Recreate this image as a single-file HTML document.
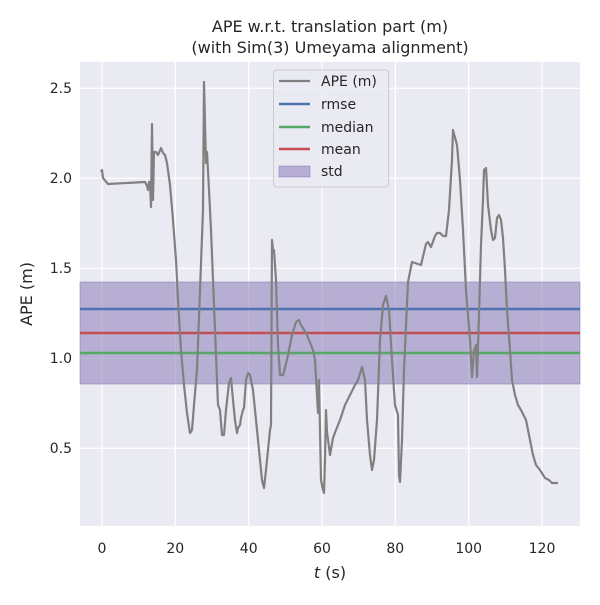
<!DOCTYPE html>
<html><head><meta charset="utf-8"><style>body{margin:0;background:#fff}</style></head><body>
<svg width="600" height="600" xmlns="http://www.w3.org/2000/svg" font-family="DejaVu Sans, Liberation Sans, sans-serif">
<rect width="600" height="600" fill="#fff"/>
<rect x="80" y="62" width="500" height="464" fill="#eaeaf2"/>
<g stroke="#fff" stroke-width="1.2">
<line x1="102" y1="62" x2="102" y2="526"/><line x1="175.3" y1="62" x2="175.3" y2="526"/><line x1="248.7" y1="62" x2="248.7" y2="526"/><line x1="322" y1="62" x2="322" y2="526"/><line x1="395.3" y1="62" x2="395.3" y2="526"/><line x1="468.7" y1="62" x2="468.7" y2="526"/><line x1="542" y1="62" x2="542" y2="526"/>
<line x1="80" y1="88.3" x2="580" y2="88.3"/><line x1="80" y1="178.3" x2="580" y2="178.3"/><line x1="80" y1="268.3" x2="580" y2="268.3"/><line x1="80" y1="358.3" x2="580" y2="358.3"/><line x1="80" y1="448.3" x2="580" y2="448.3"/>
</g>
<rect x="80" y="282" width="500" height="102" fill="#8172b3" fill-opacity="0.5" stroke="#8172b3" stroke-opacity="0.5"/>
<line x1="80" y1="309" x2="580" y2="309" stroke="#4c72b0" stroke-width="2.5"/>
<line x1="80" y1="333" x2="580" y2="333" stroke="#c44e52" stroke-width="2.5"/>
<line x1="80" y1="353" x2="580" y2="353" stroke="#55a868" stroke-width="2.5"/>
<polyline fill="none" stroke="#808080" stroke-width="2.2" stroke-linejoin="round" points="101,172 102,170 103,178 108,184 145,182 147,186 148,190 149,182 150,182 151,207 152,124 153,200 154,152 156,152 158,155 161,148 163,153 165,155 167,163 170,185 173,220 176,260 178,300 181,350 184,385 187,413 190,433 192,430 194,405 197,370 200,290 203,210 204,82 206,163 207,152 209,190 211,230 213,280 215,330 218,405 220,410 222,435 224,435 226,410 229,383 231,378 233,400 235,420 237,433 238,428 240,425 241,418 243,410 244,408 246,380 248,373 250,375 253,390 256,420 259,450 262,480 264,488 266,470 268,450 270,430 271,425 272,240 273,250 274,250 276,280 278,345 280,375 283,375 284,372 288,355 292,335 296,322 299,320 301,325 306,333 309,340 313,350 315,360 318,413 319,380 321,480 323,490 324,493 325,460 326,410 327,432 330,455 333,438 336,430 340,420 345,405 350,395 355,385 358,380 362,367 365,380 367,420 370,455 372,470 374,460 377,420 380,340 383,305 386,296 389,310 392,360 395,405 398,415 399,475 400,482 402,440 404,370 408,282 412,262 418,264 421,265 426,244 428,242 431,247 435,236 437,233 440,233 443,236 446,236 449,210 452,160 453,130 457,145 460,180 463,230 466,290 470,340 472,377 474,350 475,348 476,345 477,377 479,315 481,245 483,200 484,170 486,168 488,205 491,230 493,240 495,238 497,218 499,215 501,220 503,238 505,270 507,310 510,350 512,380 515,395 518,405 521,410 526,420 530,440 533,455 536,465 540,470 545,478 549,480 552,483 558,483"/>
<g font-size="14" fill="#262626">
<g text-anchor="middle">
<text x="102" y="553">0</text><text x="175.3" y="553">20</text><text x="248.7" y="553">40</text><text x="322" y="553">60</text><text x="395.3" y="553">80</text><text x="468.7" y="553">100</text><text x="542" y="553">120</text>
</g>
<g text-anchor="end">
<text x="72" y="93">2.5</text><text x="72" y="183">2.0</text><text x="72" y="273">1.5</text><text x="72" y="363">1.0</text><text x="72" y="453">0.5</text>
</g>
<text x="330" y="578" text-anchor="middle" font-size="16"><tspan font-style="italic">t</tspan> (s)</text>
<text transform="translate(32,294) rotate(-90)" text-anchor="middle" font-size="16">APE (m)</text>
<text x="330" y="32" text-anchor="middle" font-size="16">APE w.r.t. translation part (m)</text>
<text x="330" y="53" text-anchor="middle" font-size="16">(with Sim(3) Umeyama alignment)</text>
</g>
<rect x="273.5" y="70" width="115" height="117" rx="3" fill="#eaeaf2" fill-opacity="0.8" stroke="#ccc"/>
<g stroke-width="2.5">
<line x1="279" y1="81" x2="310" y2="81" stroke="#808080" stroke-width="2.2"/>
<line x1="279" y1="104" x2="310" y2="104" stroke="#4c72b0"/>
<line x1="279" y1="127" x2="310" y2="127" stroke="#55a868"/>
<line x1="279" y1="149" x2="310" y2="149" stroke="#c44e52"/>
</g>
<rect x="279" y="166" width="31" height="11" fill="#8172b3" fill-opacity="0.5" stroke="#8172b3" stroke-opacity="0.5"/>
<g font-size="14" fill="#262626">
<text x="321" y="86">APE (m)</text><text x="321" y="109">rmse</text><text x="321" y="132">median</text><text x="321" y="154">mean</text><text x="321" y="176">std</text>
</g>
</svg>
</body></html>
